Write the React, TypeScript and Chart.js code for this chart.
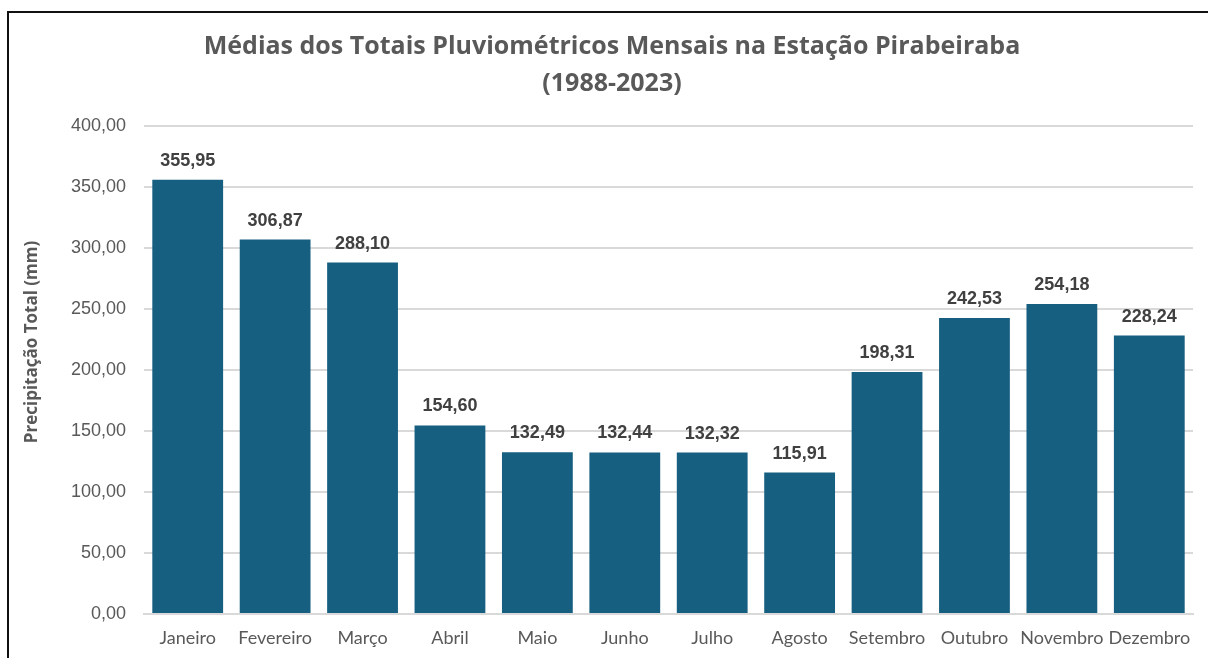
import React, { useEffect, useRef } from "react";
import { Chart, registerables } from "chart.js";

Chart.register(...registerables);

const months = ["Janeiro", "Fevereiro", "Março", "Abril", "Maio", "Junho", "Julho", "Agosto", "Setembro", "Outubro", "Novembro", "Dezembro"];
const precip = [355.95, 306.87, 288.1, 154.6, 132.49, 132.44, 132.32, 115.91, 198.31, 242.53, 254.18, 228.24];
const titleLines = ["Médias dos Totais Pluviométricos Mensais na Estação Pirabeiraba", "(1988-2023)"];
const yTitle = "Precipitação Total (mm)";

const fmt = (v: number) => v.toFixed(2).replace(".", ",");

const labelPlugin = {
  id: "barLabels",
  afterDatasetsDraw(chart: any) {
    const ctx = chart.ctx;
    const meta = chart.getDatasetMeta(0);
    ctx.save();
    ctx.font = "bold 18px 'Liberation Sans', Arial, sans-serif";
    ctx.fillStyle = "#404040";
    ctx.textAlign = "center";
    ctx.textBaseline = "alphabetic";
    meta.data.forEach((bar: any, i: number) => {
      ctx.fillText(fmt(precip[i]), bar.x, bar.y - 14);
    });
    ctx.restore();
  },
};

const titlePlugin = {
  id: "customTitle",
  afterDraw(chart: any) {
    const ctx = chart.ctx;
    ctx.save();
    ctx.font = "bold 25px 'Open Sans', sans-serif";
    ctx.fillStyle = "#595959";
    ctx.textAlign = "center";
    ctx.textBaseline = "middle";
    ctx.fillText(titleLines[0], 612, 47);
    ctx.fillText(titleLines[1], 612, 84);
    ctx.font = "bold 17px 'Open Sans', sans-serif";
    ctx.translate(32, 342);
    ctx.rotate(-Math.PI / 2);
    ctx.fillText(yTitle, 0, 0);
    ctx.restore();
  },
};

export default function App() {
  const ref = useRef<HTMLCanvasElement>(null);
  useEffect(() => {
    if (!ref.current) return;
    const chart = new Chart(ref.current, {
      type: "bar",
      data: {
        labels: months,
        datasets: [
          {
            data: precip,
            backgroundColor: "#175F80",
            borderWidth: 0,
            categoryPercentage: 0.81,
            barPercentage: 1,
          },
        ],
      },
      options: {
        animation: false,
        responsive: false,
        maintainAspectRatio: false,
        layout: { padding: { top: 126, right: 15, left: 0, bottom: 0 } },
        plugins: { legend: { display: false }, tooltip: { enabled: false }, title: { display: false } },
        scales: {
          x: {
            grid: { display: false, drawTicks: false },
            border: { display: true, color: "#D9D9D9", width: 2 },
            ticks: { color: "#595959", font: { family: "Lato, sans-serif", size: 18 }, padding: 13, maxRotation: 0, autoSkip: false },
            afterFit: (s: any) => { s.height = 44; },
          },
          y: {
            min: 0,
            max: 400,
            grid: { color: "#D9D9D9", lineWidth: 2, drawTicks: false },
            border: { display: false },
            ticks: { stepSize: 50, color: "#595959", font: { family: "'Liberation Sans', Arial, sans-serif", size: 18 }, padding: 18, callback: (v: any) => fmt(Number(v)) },
            afterFit: (s: any) => { s.width = 144; },
          },
        },
      },
      plugins: [labelPlugin, titlePlugin],
    });
    return () => chart.destroy();
  }, []);
  return (
    <div style={{ position: "fixed", left: 0, top: 0, width: 1208, height: 658, overflow: "hidden", background: "#fff" }}>
      <div style={{ position: "absolute", left: 7, top: 11, width: 1240, height: 700, border: "2px solid #111", boxSizing: "border-box" }} />
      <canvas ref={ref} width={1208} height={658} style={{ position: "absolute", left: 0, top: 0, display: "block" }} />
    </div>
  );
}
